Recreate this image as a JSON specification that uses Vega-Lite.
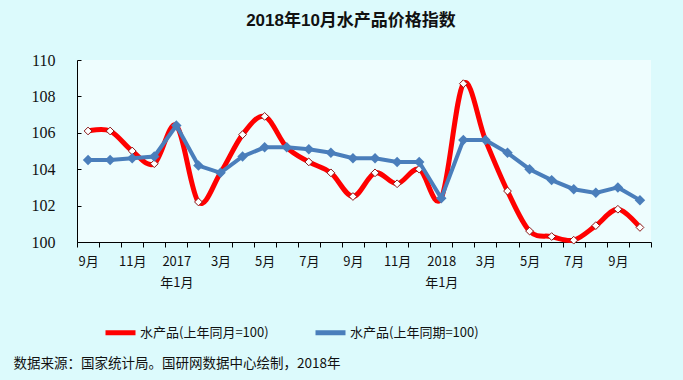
{
  "$schema": "https://vega.github.io/schema/vega-lite/v6.json",
  "width": 574,
  "height": 182,
  "autosize": "none",
  "padding": {"left": 77, "top": 60, "right": 32, "bottom": 138},
  "background": "#dcfafc",
  "title": {
    "text": "2018年10月水产品价格指数",
    "font": "Liberation Sans, Noto Sans CJK SC",
    "fontSize": 17,
    "fontWeight": "bold",
    "color": "#111111",
    "anchor": "middle",
    "dx": -13,
    "offset": 22
  },
  "config": {
    "view": {"stroke": null, "fill": "#eefdfe"}
  },
  "data": {
    "values": [
      {"month": "2016-09", "series": "A", "value": 106.1},
      {"month": "2016-10", "series": "A", "value": 106.1},
      {"month": "2016-11", "series": "A", "value": 105.0},
      {"month": "2016-12", "series": "A", "value": 104.3},
      {"month": "2017-01", "series": "A", "value": 106.4},
      {"month": "2017-02", "series": "A", "value": 102.2},
      {"month": "2017-03", "series": "A", "value": 103.8},
      {"month": "2017-04", "series": "A", "value": 105.9},
      {"month": "2017-05", "series": "A", "value": 106.9},
      {"month": "2017-06", "series": "A", "value": 105.2},
      {"month": "2017-07", "series": "A", "value": 104.4},
      {"month": "2017-08", "series": "A", "value": 103.8},
      {"month": "2017-09", "series": "A", "value": 102.5},
      {"month": "2017-10", "series": "A", "value": 103.8},
      {"month": "2017-11", "series": "A", "value": 103.2},
      {"month": "2017-12", "series": "A", "value": 104.0},
      {"month": "2018-01", "series": "A", "value": 102.4},
      {"month": "2018-02", "series": "A", "value": 108.7},
      {"month": "2018-03", "series": "A", "value": 105.6},
      {"month": "2018-04", "series": "A", "value": 102.8},
      {"month": "2018-05", "series": "A", "value": 100.6},
      {"month": "2018-06", "series": "A", "value": 100.3},
      {"month": "2018-07", "series": "A", "value": 100.1},
      {"month": "2018-08", "series": "A", "value": 100.9},
      {"month": "2018-09", "series": "A", "value": 101.8},
      {"month": "2018-10", "series": "A", "value": 100.8},
      {"month": "2016-09", "series": "B", "value": 104.5},
      {"month": "2016-10", "series": "B", "value": 104.5},
      {"month": "2016-11", "series": "B", "value": 104.6},
      {"month": "2016-12", "series": "B", "value": 104.7},
      {"month": "2017-01", "series": "B", "value": 106.4},
      {"month": "2017-02", "series": "B", "value": 104.2},
      {"month": "2017-03", "series": "B", "value": 103.8},
      {"month": "2017-04", "series": "B", "value": 104.7},
      {"month": "2017-05", "series": "B", "value": 105.2},
      {"month": "2017-06", "series": "B", "value": 105.2},
      {"month": "2017-07", "series": "B", "value": 105.1},
      {"month": "2017-08", "series": "B", "value": 104.9},
      {"month": "2017-09", "series": "B", "value": 104.6},
      {"month": "2017-10", "series": "B", "value": 104.6},
      {"month": "2017-11", "series": "B", "value": 104.4},
      {"month": "2017-12", "series": "B", "value": 104.4},
      {"month": "2018-01", "series": "B", "value": 102.4},
      {"month": "2018-02", "series": "B", "value": 105.6},
      {"month": "2018-03", "series": "B", "value": 105.6},
      {"month": "2018-04", "series": "B", "value": 104.9},
      {"month": "2018-05", "series": "B", "value": 104.0},
      {"month": "2018-06", "series": "B", "value": 103.4},
      {"month": "2018-07", "series": "B", "value": 102.9},
      {"month": "2018-08", "series": "B", "value": 102.7},
      {"month": "2018-09", "series": "B", "value": 103.0},
      {"month": "2018-10", "series": "B", "value": 102.3}
    ]
  },
  "encoding": {
    "x": {
      "field": "month",
      "type": "ordinal",
      "scale": {"type": "band", "paddingInner": 0, "paddingOuter": 0},
      "axis": {
        "title": "数据来源：国家统计局。国研网数据中心绘制，2018年",
        "titleFont": "Noto Sans CJK SC",
        "titleFontSize": 13.5,
        "titleFontWeight": "normal",
        "titleColor": "#111111",
        "titleAnchor": "start",
        "titleAlign": "left",
        "titleBaseline": "alphabetic",
        "titleX": -64,
        "titleY": 125,
        "labelAngle": 0,
        "labelOverlap": false,
        "labelFont": "Noto Sans CJK SC",
        "labelFontSize": 13,
        "labelColor": "#111111",
        "labelPadding": 8,
        "labelLineHeight": 21,
        "labelExpr": "split(substring(datum.value,5) == '01' ? substring(datum.value,0,4) + '|年1月' : substring(datum.value,5) == '03' ? '3月' : substring(datum.value,5) == '05' ? '5月' : substring(datum.value,5) == '07' ? '7月' : substring(datum.value,5) == '09' ? '9月' : substring(datum.value,5) == '11' ? '11月' : ' ', '|')",
        "tickBand": "extent",
        "tickSize": 5,
        "tickColor": "#000000",
        "domainColor": "#000000",
        "grid": false
      }
    },
    "y": {
      "field": "value",
      "type": "quantitative",
      "scale": {"domain": [100, 110], "zero": false, "nice": false},
      "axis": {
        "title": null,
        "values": [100, 102, 104, 106, 108, 110],
        "labelFont": "Liberation Serif",
        "labelFontSize": 16,
        "labelColor": "#111111",
        "tickSize": -4,
        "labelPadding": 26,
        "tickColor": "#000000",
        "domainColor": "#000000",
        "grid": false
      }
    },
    "color": {
      "field": "series",
      "type": "nominal",
      "scale": {
        "domain": ["A", "B"],
        "range": ["#ff0000", "#4a7ebb"]
      },
      "legend": {
        "title": null,
        "orient": "none",
        "direction": "horizontal",
        "legendX": 26,
        "legendY": 255,
        "symbolType": "stroke",
        "symbolStrokeWidth": 5,
        "symbolSize": 900,
        "labelOffset": 2,
        "columnPadding": 36,
        "labelExpr": "datum.value == 'A' ? '水产品(上年同月=100)' : '水产品(上年同期=100)'",
        "labelFont": "Noto Sans CJK SC",
        "labelFontSize": 13,
        "labelColor": "#111111"
      }
    }
  },
  "layer": [
    {
      "transform": [{"filter": "datum.series == 'A'"}],
      "mark": {"type": "line", "interpolate": "cardinal", "strokeWidth": 5}
    },
    {
      "transform": [{"filter": "datum.series == 'A'"}],
      "mark": {"type": "point", "shape": "diamond", "filled": true, "fill": "#ffffff", "stroke": "#8b1a1a", "strokeWidth": 1, "size": 60, "opacity": 1}
    },
    {
      "transform": [{"filter": "datum.series == 'B'"}],
      "mark": {"type": "line", "strokeWidth": 4}
    },
    {
      "transform": [{"filter": "datum.series == 'B'"}],
      "mark": {"type": "point", "shape": "diamond", "filled": true, "size": 110, "opacity": 1}
    }
  ]
}
